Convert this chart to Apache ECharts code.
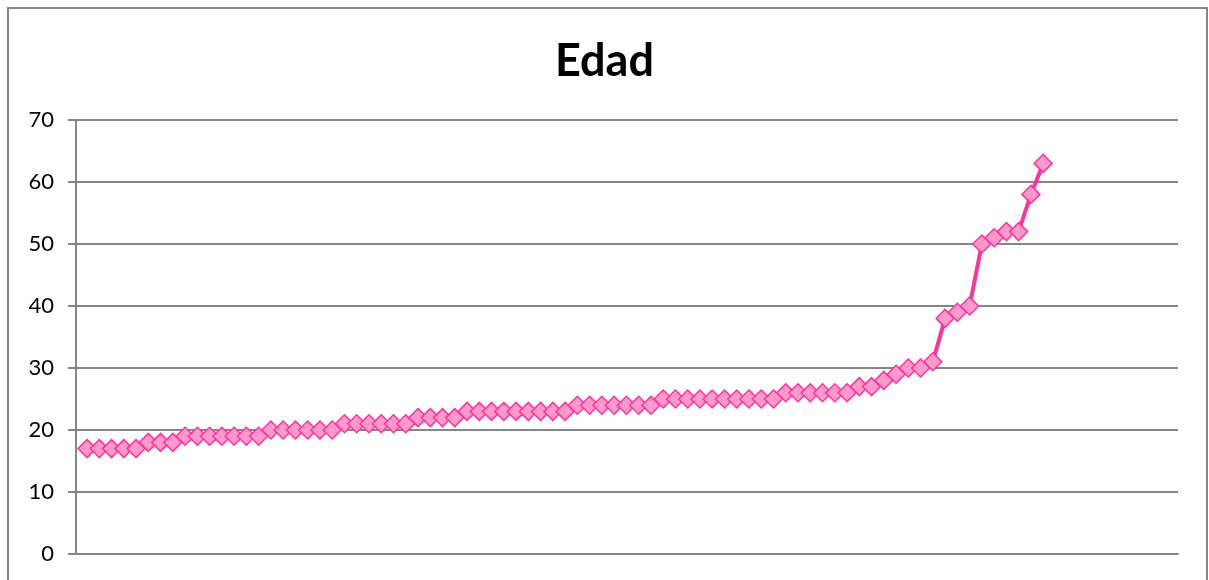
<!DOCTYPE html>
<html>
<head>
<meta charset="utf-8">
<title>Edad</title>
<script src="https://cdn.jsdelivr.net/npm/echarts@6/dist/echarts.min.js"></script>
<style>
  html, body { margin: 0; padding: 0; background: #fff; }
  #chart { width: 1209px; height: 580px; }
</style>
</head>
<body>
<div id="chart"></div>
<script>
// numero de persona (1..79), ordenado por edad
var personas = [];
for (var i = 1; i <= 79; i++) personas.push(i);

// edades
var edades = [
  17, 17, 17, 17, 17,
  18, 18, 18,
  19, 19, 19, 19, 19, 19, 19,
  20, 20, 20, 20, 20, 20,
  21, 21, 21, 21, 21, 21,
  22, 22, 22, 22,
  23, 23, 23, 23, 23, 23, 23, 23, 23,
  24, 24, 24, 24, 24, 24, 24,
  25, 25, 25, 25, 25, 25, 25, 25, 25, 25,
  26, 26, 26, 26, 26, 26,
  27, 27, 28, 29, 30, 30, 31,
  38, 39, 40, 50, 51, 52, 52, 58, 63
];

var yTicks = [0, 10, 20, 30, 40, 50, 60, 70];

var chart = echarts.init(document.getElementById("chart"));

var option = {
  animation: false,
  backgroundColor: "#fff",
  title: {
    text: "Edad",
    left: "center",
    top: 34,
    textStyle: {
      fontFamily: "Lato",
      fontWeight: "bold",
      fontSize: 45,
      color: "#000"
    }
  },
  graphic: [
    {
      type: "rect",
      shape: { x: 8, y: 8, width: 1199, height: 600 },
      style: { fill: null, stroke: "#868686", lineWidth: 2 },
      silent: true
    }
  ],
  grid: {
    left: 76,
    right: 31,
    top: 120,
    bottom: 26
  },
  xAxis: {
    type: "value",
    min: 0.1,
    max: 90,
    axisLine: { show: true, lineStyle: { color: "#868686", width: 2 } },
    axisTick: { show: false },
    axisLabel: { show: false },
    splitLine: { show: false }
  },
  yAxis: {
    type: "value",
    min: yTicks[0],
    max: yTicks[yTicks.length - 1],
    interval: 10,
    axisLine: { show: true, lineStyle: { color: "#868686", width: 2 } },
    axisTick: { show: true, length: 8, lineStyle: { color: "#868686", width: 2 } },
    axisLabel: {
      margin: 22,
      fontFamily: "Lato",
      fontSize: 22,
      color: "#000"
    },
    splitLine: { lineStyle: { color: "#868686", width: 2 } }
  },
  series: [
    {
      name: "Edad",
      type: "line",
      data: personas.map(function (p, i) { return [p, edades[i]]; }),
      symbol: "diamond",
      symbolSize: 18,
      lineStyle: { color: "#ff3399", width: 4 },
      itemStyle: {
        color: "#ff99cc",
        borderColor: "#ff3399",
        borderWidth: 1.5
      }
    }
  ]
};

chart.setOption(option);
</script>
</body>
</html>
